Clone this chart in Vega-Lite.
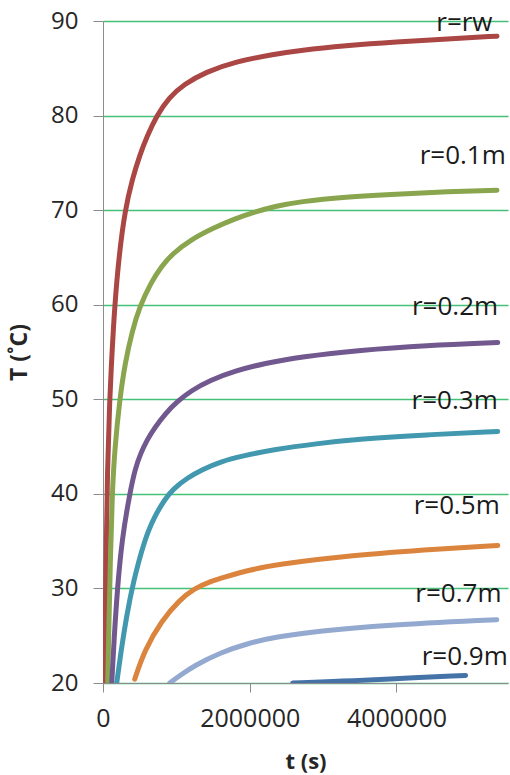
{
  "$schema": "https://vega.github.io/schema/vega-lite/v6.json",
  "width": 405,
  "height": 662,
  "autosize": {"type": "none"},
  "padding": {"left": 103, "top": 21, "right": 2, "bottom": 92},
  "background": "white",
  "config": {
    "view": {"stroke": null},
    "font": "Open Sans"
  },
  "datasets": {
    "curves": [
      {"s": "r=rw", "t": 23000, "T": 20},
      {"s": "r=rw", "t": 40000, "T": 33},
      {"s": "r=rw", "t": 60000, "T": 42.5},
      {"s": "r=rw", "t": 91000, "T": 50},
      {"s": "r=rw", "t": 120000, "T": 54.5},
      {"s": "r=rw", "t": 160000, "T": 60},
      {"s": "r=rw", "t": 220000, "T": 65.3},
      {"s": "r=rw", "t": 300000, "T": 70},
      {"s": "r=rw", "t": 400000, "T": 73.3},
      {"s": "r=rw", "t": 500000, "T": 75.8},
      {"s": "r=rw", "t": 600000, "T": 77.8},
      {"s": "r=rw", "t": 732000, "T": 80},
      {"s": "r=rw", "t": 900000, "T": 81.9},
      {"s": "r=rw", "t": 1100000, "T": 83.3},
      {"s": "r=rw", "t": 1400000, "T": 84.6},
      {"s": "r=rw", "t": 1800000, "T": 85.7},
      {"s": "r=rw", "t": 2340000, "T": 86.5},
      {"s": "r=rw", "t": 2680000, "T": 86.9},
      {"s": "r=rw", "t": 3300000, "T": 87.4},
      {"s": "r=rw", "t": 4000000, "T": 87.8},
      {"s": "r=rw", "t": 4700000, "T": 88.1},
      {"s": "r=rw", "t": 5370000, "T": 88.4},

      {"s": "r=0.1m", "t": 64000, "T": 20},
      {"s": "r=0.1m", "t": 80000, "T": 26},
      {"s": "r=0.1m", "t": 100000, "T": 33},
      {"s": "r=0.1m", "t": 125000, "T": 40},
      {"s": "r=0.1m", "t": 160000, "T": 44.8},
      {"s": "r=0.1m", "t": 228000, "T": 50},
      {"s": "r=0.1m", "t": 300000, "T": 53.8},
      {"s": "r=0.1m", "t": 400000, "T": 57.3},
      {"s": "r=0.1m", "t": 500000, "T": 59.8},
      {"s": "r=0.1m", "t": 650000, "T": 62.3},
      {"s": "r=0.1m", "t": 800000, "T": 64.1},
      {"s": "r=0.1m", "t": 950000, "T": 65.4},
      {"s": "r=0.1m", "t": 1180000, "T": 66.8},
      {"s": "r=0.1m", "t": 1500000, "T": 68.1},
      {"s": "r=0.1m", "t": 1800000, "T": 69.1},
      {"s": "r=0.1m", "t": 2070000, "T": 69.8},
      {"s": "r=0.1m", "t": 2340000, "T": 70.4},
      {"s": "r=0.1m", "t": 2680000, "T": 70.9},
      {"s": "r=0.1m", "t": 3300000, "T": 71.4},
      {"s": "r=0.1m", "t": 4000000, "T": 71.7},
      {"s": "r=0.1m", "t": 4700000, "T": 71.95},
      {"s": "r=0.1m", "t": 5370000, "T": 72.1},

      {"s": "r=0.2m", "t": 119000, "T": 20},
      {"s": "r=0.2m", "t": 150000, "T": 24.5},
      {"s": "r=0.2m", "t": 196000, "T": 30},
      {"s": "r=0.2m", "t": 260000, "T": 35.3},
      {"s": "r=0.2m", "t": 364000, "T": 40},
      {"s": "r=0.2m", "t": 436000, "T": 42.6},
      {"s": "r=0.2m", "t": 514000, "T": 44.3},
      {"s": "r=0.2m", "t": 600000, "T": 45.7},
      {"s": "r=0.2m", "t": 705000, "T": 47.0},
      {"s": "r=0.2m", "t": 850000, "T": 48.5},
      {"s": "r=0.2m", "t": 1018000, "T": 49.8},
      {"s": "r=0.2m", "t": 1200000, "T": 50.9},
      {"s": "r=0.2m", "t": 1455000, "T": 52.0},
      {"s": "r=0.2m", "t": 1800000, "T": 53.0},
      {"s": "r=0.2m", "t": 2200000, "T": 53.8},
      {"s": "r=0.2m", "t": 2700000, "T": 54.5},
      {"s": "r=0.2m", "t": 3500000, "T": 55.2},
      {"s": "r=0.2m", "t": 4400000, "T": 55.7},
      {"s": "r=0.2m", "t": 5380000, "T": 56.0},

      {"s": "r=0.3m", "t": 187000, "T": 20},
      {"s": "r=0.3m", "t": 250000, "T": 23.6},
      {"s": "r=0.3m", "t": 320000, "T": 27.0},
      {"s": "r=0.3m", "t": 409000, "T": 30.6},
      {"s": "r=0.3m", "t": 568000, "T": 35.2},
      {"s": "r=0.3m", "t": 700000, "T": 37.6},
      {"s": "r=0.3m", "t": 850000, "T": 39.5},
      {"s": "r=0.3m", "t": 954000, "T": 40.5},
      {"s": "r=0.3m", "t": 1150000, "T": 41.7},
      {"s": "r=0.3m", "t": 1359000, "T": 42.6},
      {"s": "r=0.3m", "t": 1600000, "T": 43.4},
      {"s": "r=0.3m", "t": 1891000, "T": 44.0},
      {"s": "r=0.3m", "t": 2340000, "T": 44.7},
      {"s": "r=0.3m", "t": 2900000, "T": 45.3},
      {"s": "r=0.3m", "t": 3500000, "T": 45.8},
      {"s": "r=0.3m", "t": 4400000, "T": 46.25},
      {"s": "r=0.3m", "t": 5380000, "T": 46.6},

      {"s": "r=0.5m", "t": 432000, "T": 20.4},
      {"s": "r=0.5m", "t": 568000, "T": 23.5},
      {"s": "r=0.5m", "t": 800000, "T": 26.6},
      {"s": "r=0.5m", "t": 1045000, "T": 28.8},
      {"s": "r=0.5m", "t": 1250000, "T": 30},
      {"s": "r=0.5m", "t": 1450000, "T": 30.7},
      {"s": "r=0.5m", "t": 1659000, "T": 31.2},
      {"s": "r=0.5m", "t": 2000000, "T": 31.95},
      {"s": "r=0.5m", "t": 2340000, "T": 32.5},
      {"s": "r=0.5m", "t": 3363000, "T": 33.5},
      {"s": "r=0.5m", "t": 4631000, "T": 34.2},
      {"s": "r=0.5m", "t": 5381000, "T": 34.55},

      {"s": "r=0.7m", "t": 909000, "T": 20.0},
      {"s": "r=0.7m", "t": 1050000, "T": 20.8},
      {"s": "r=0.7m", "t": 1250000, "T": 21.85},
      {"s": "r=0.7m", "t": 1591000, "T": 23.2},
      {"s": "r=0.7m", "t": 2000000, "T": 24.25},
      {"s": "r=0.7m", "t": 2340000, "T": 24.85},
      {"s": "r=0.7m", "t": 2954000, "T": 25.5},
      {"s": "r=0.7m", "t": 3813000, "T": 26.1},
      {"s": "r=0.7m", "t": 5367000, "T": 26.7},

      {"s": "r=0.9m", "t": 2586000, "T": 20},
      {"s": "r=0.9m", "t": 3300000, "T": 20.2},
      {"s": "r=0.9m", "t": 3813000, "T": 20.4},
      {"s": "r=0.9m", "t": 4942000, "T": 20.8}
    ],
    "labels": [
      {"s": "r=rw", "t": 5309000, "T": 88.9},
      {"s": "r=0.1m", "t": 5490000, "T": 74.9},
      {"s": "r=0.2m", "t": 5385000, "T": 58.9},
      {"s": "r=0.3m", "t": 5380000, "T": 49.0},
      {"s": "r=0.5m", "t": 5408000, "T": 37.9},
      {"s": "r=0.7m", "t": 5431000, "T": 28.6},
      {"s": "r=0.9m", "t": 5517000, "T": 21.9}
    ]
  },
  "layer": [
    {
      "data": {"name": "curves"},
      "mark": {"type": "line", "strokeWidth": 5, "strokeCap": "round", "strokeJoin": "round", "interpolate": "basis", "clip": true},
      "encoding": {
        "x": {
          "field": "t", "type": "quantitative",
          "scale": {"domain": [0, 5520000], "nice": false, "zero": false},
          "axis": {
            "title": "t (s)", "values": [0, 2000000, 4000000], "format": "d",
            "grid": false, "domainColor": "#8c8c8c", "tickColor": "#8c8c8c", "tickSize": 9,
            "labelFontSize": 25, "labelColor": "#262626", "labelPadding": 14, "labelFlush": false,
            "titleFontSize": 22, "titleFontWeight": "bold", "titleColor": "#262626", "titlePadding": 20,
            "titleFont": "Open Sans", "labelFont": "Open Sans"
          }
        },
        "y": {
          "field": "T", "type": "quantitative",
          "scale": {"domain": [20, 90], "nice": false, "zero": false},
          "axis": {
            "title": "T (˚C)", "values": [20, 30, 40, 50, 60, 70, 80, 90],
            "grid": true, "gridColor": "#45c177", "gridWidth": 1.3,
            "domainColor": "#8c8c8c", "tickColor": "#8c8c8c", "tickSize": 10,
            "labelFontSize": 24, "labelColor": "#262626", "labelPadding": 15,
            "titleFontSize": 23, "titleFontWeight": "bold", "titleColor": "#262626", "titlePadding": 19,
            "titleFont": "Open Sans", "labelFont": "Open Sans"
          }
        },
        "color": {
          "field": "s", "type": "nominal", "legend": null,
          "scale": {
            "domain": ["r=rw", "r=0.1m", "r=0.2m", "r=0.3m", "r=0.5m", "r=0.7m", "r=0.9m"],
            "range": ["#AA4643", "#89A54E", "#71588F", "#4198AF", "#DB843D", "#93A9CF", "#4572A7"]
          }
        },
        "detail": {"field": "s"}
      }
    },
    {
      "data": {"name": "labels"},
      "mark": {"type": "text", "align": "right", "baseline": "alphabetic", "fontSize": 26, "color": "#1a1a1a", "font": "Open Sans"},
      "encoding": {
        "x": {"field": "t", "type": "quantitative"},
        "y": {"field": "T", "type": "quantitative"},
        "text": {"field": "s"}
      }
    }
  ]
}
